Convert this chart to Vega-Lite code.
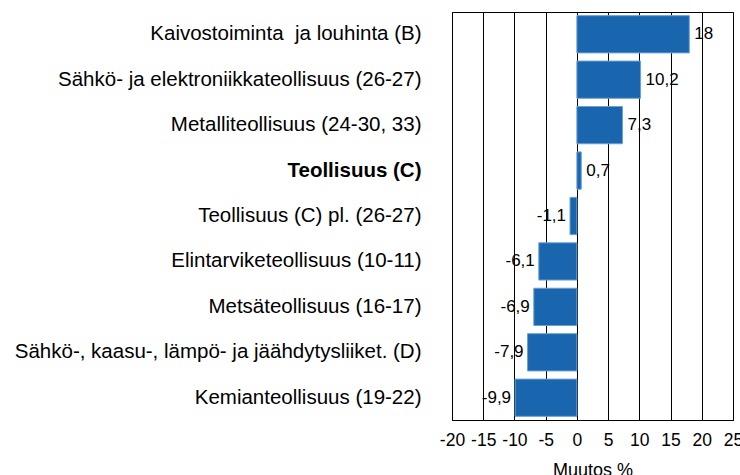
{
  "$schema": "https://vega.github.io/schema/vega-lite/v6.json",
  "width": 281,
  "height": 408,
  "autosize": {"type": "none"},
  "padding": {"left": 452, "top": 12, "right": 7, "bottom": 55},
  "background": "white",
  "config": {
    "locale": {"number": {"decimal": ",", "thousands": " ", "grouping": [3], "currency": ["", " €"], "minus": "-"}},
    "view": {"stroke": "black", "strokeWidth": 1},
    "font": "Liberation Sans",
    "axis": {"labelFont": "Liberation Sans", "titleFont": "Liberation Sans", "labelColor": "black", "titleColor": "black"}
  },
  "data": {
    "values": [
      {"toimiala": "Kaivostoiminta\u00a0 ja louhinta (B)", "muutos": 18},
      {"toimiala": "Sähkö- ja elektroniikkateollisuus (26-27)", "muutos": 10.2},
      {"toimiala": "Metalliteollisuus (24-30, 33)\u00a0", "muutos": 7.3},
      {"toimiala": "Teollisuus (C)", "muutos": 0.7},
      {"toimiala": "Teollisuus (C) pl. (26-27)", "muutos": -1.1},
      {"toimiala": "Elintarviketeollisuus (10-11)", "muutos": -6.1},
      {"toimiala": "Metsäteollisuus (16-17)", "muutos": -6.9},
      {"toimiala": "Sähkö-, kaasu-, lämpö- ja jäähdytysliiket. (D)", "muutos": -7.9},
      {"toimiala": "Kemianteollisuus (19-22)", "muutos": -9.9}
    ]
  },
  "encoding": {
    "y": {
      "field": "toimiala",
      "type": "nominal",
      "sort": null,
      "scale": {"paddingInner": 0.18, "paddingOuter": 0.08},
      "axis": {
        "title": null,
        "domain": false,
        "ticks": false,
        "labelPadding": 31,
        "labelFontSize": 20.5,
        "labelLimit": 600,
        "labelFontWeight": {"condition": {"test": "datum.value === 'Teollisuus (C)'", "value": "bold"}, "value": "normal"}
      }
    },
    "x": {
      "field": "muutos",
      "type": "quantitative",
      "scale": {"domain": [-20, 25], "nice": false, "zero": false},
      "axis": {
        "values": [-20, -15, -10, -5, 0, 5, 10, 15, 20, 25],
        "format": "d",
        "grid": true,
        "gridColor": "black",
        "gridOpacity": 1,
        "gridWidth": 1,
        "domainColor": "black",
        "ticks": false,
        "labelOverlap": false,
        "labelBound": false,
        "labelFlush": false,
        "labelPadding": 11,
        "labelFontSize": 17.5,
        "title": "Muutos %",
        "titleFontSize": 18,
        "titleFontWeight": "normal",
        "titlePadding": 13
      }
    }
  },
  "layer": [
    {
      "mark": {"type": "bar", "color": "#1a66ae", "stroke": "#6b9fd6", "strokeWidth": 1}
    },
    {
      "transform": [{"filter": "datum.muutos >= 0"}],
      "mark": {"type": "text", "align": "left", "baseline": "middle", "dx": 5, "fontSize": 17, "color": "black"},
      "encoding": {"text": {"field": "muutos", "type": "quantitative", "format": "~g"}}
    },
    {
      "transform": [{"filter": "datum.muutos < 0"}],
      "mark": {"type": "text", "align": "right", "baseline": "middle", "dx": -4, "fontSize": 17, "color": "black"},
      "encoding": {"text": {"field": "muutos", "type": "quantitative", "format": "~g"}}
    }
  ]
}
